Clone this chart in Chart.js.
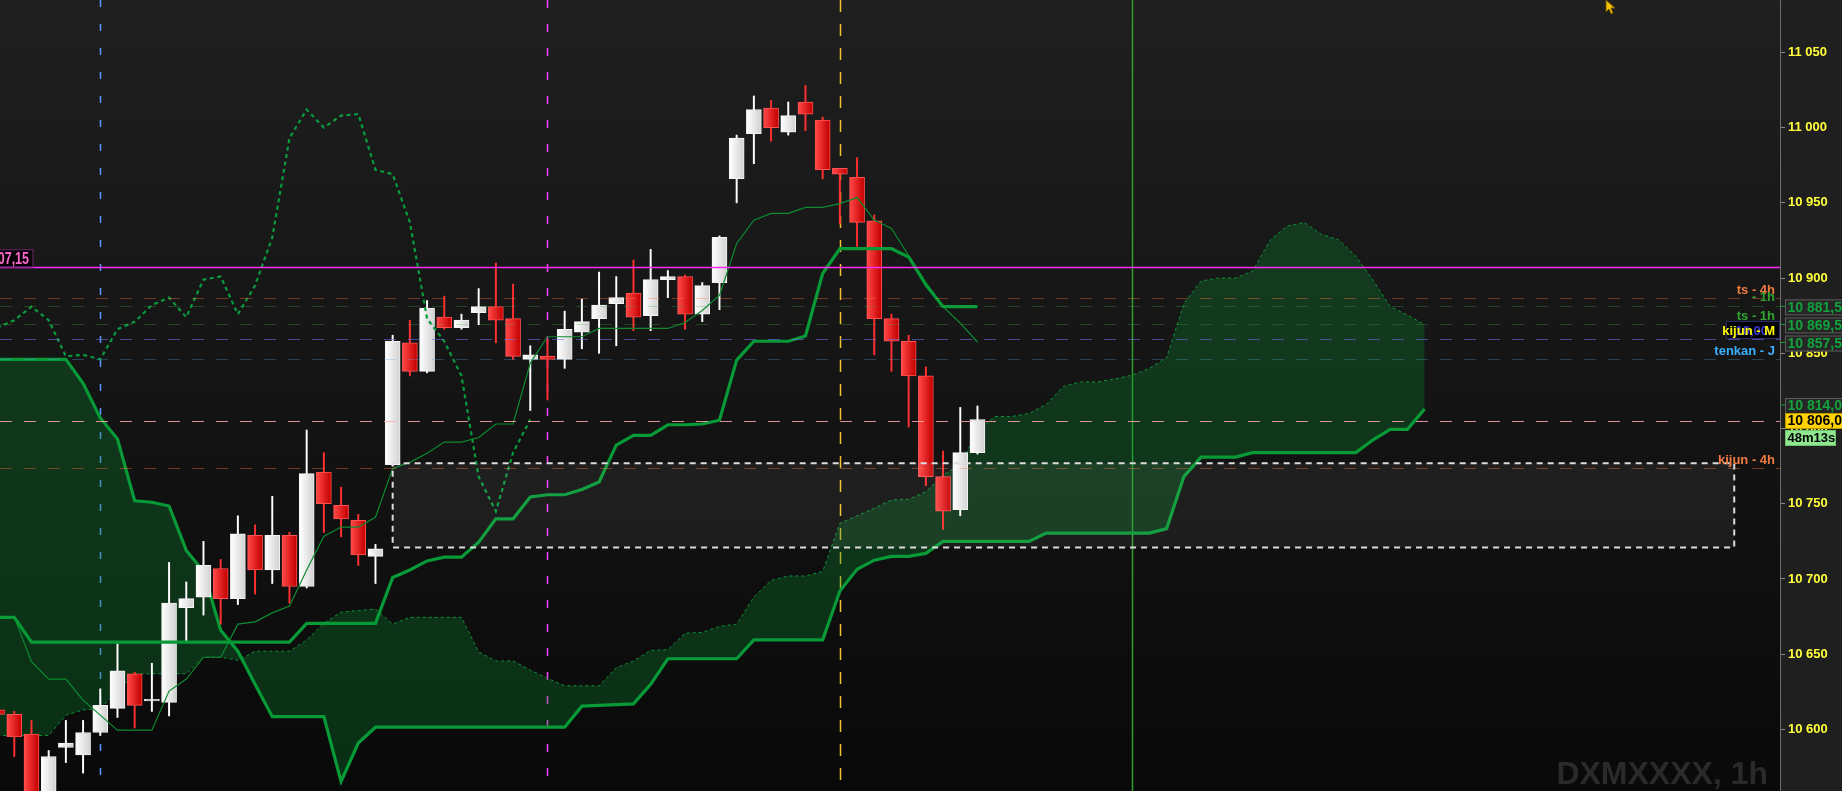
<!DOCTYPE html>
<html>
<head>
<meta charset="utf-8">
<script src="https://cdn.jsdelivr.net/npm/chart.js@4.4.1/dist/chart.umd.min.js"></script>
<style>
  html, body { margin: 0; padding: 0; background: #1f1f1f; overflow: hidden; }
  #chart { display: block; }
</style>
</head>
<body>
<canvas id="chart" width="1842" height="791"></canvas>
<script>
// bar index k: 0 = first (cut) bar on the left, 57 = current 1h bar
const opens = [
  10613, 10610, 10597, 10545, 10588, 10583, 10598, 10614, 10637, 10619,
  10618, 10681, 10688, 10707, 10687, 10729, 10706, 10729, 10695, 10771,
  10749, 10739, 10715, 10776, 10857, 10838, 10874, 10867, 10877, 10881,
  10873, 10846, 10848, 10846, 10864, 10873, 10883, 10890, 10875, 10899,
  10901, 10876, 10897, 10966, 10996, 11013, 10997, 11017, 11005, 10973,
  10967, 10938, 10873, 10858, 10835, 10768, 10746, 10784];
const highs = [
  10614, 10612, 10606, 10586, 10606, 10606, 10627, 10657, 10638, 10644,
  10711, 10698, 10725, 10713, 10742, 10736, 10755, 10731, 10799, 10784,
  10761, 10743, 10723, 10862, 10872, 10885, 10888, 10876, 10893, 10910,
  10896, 10855, 10859, 10878, 10886, 10904, 10901, 10912, 10919, 10905,
  10902, 10897, 10928, 10995, 11021, 11018, 11017, 11028, 11007, 10973,
  10980, 10942, 10876, 10862, 10841, 10785, 10814, 10815];
const lows = [
  10608, 10582, 10540, 10535, 10578, 10571, 10596, 10608, 10601, 10612,
  10609, 10659, 10676, 10670, 10683, 10690, 10697, 10684, 10694, 10731,
  10728, 10709, 10697, 10775, 10835, 10837, 10866, 10866, 10869, 10857,
  10846, 10812, 10819, 10840, 10853, 10850, 10855, 10865, 10865, 10887,
  10866, 10871, 10879, 10950, 10976, 10991, 10995, 10998, 10966, 10936,
  10921, 10849, 10838, 10801, 10762, 10733, 10742, 10783];
const closes = [
  10610, 10595, 10548, 10582, 10591, 10598, 10616, 10639, 10616, 10620,
  10684, 10687, 10709, 10687, 10730, 10706, 10729, 10695, 10770, 10750,
  10740, 10716, 10720, 10858, 10838, 10880, 10867, 10872, 10881, 10872,
  10848, 10849, 10846, 10866, 10871, 10882, 10887, 10874, 10899, 10901,
  10876, 10895, 10927, 10993, 11012, 11000, 11008, 11009, 10972, 10969,
  10937, 10873, 10858, 10835, 10768, 10745, 10784, 10806];

const tenkan = [
  10674.5, 10674.5, 10645, 10633.5, 10633.5, 10619.5, 10609.5, 10599.5, 10599.5, 10599.5,
  10625.5, 10633.5, 10648, 10648, 10670, 10671.5, 10677.5, 10682, 10706, 10728.5,
  10734.5, 10734.5, 10741, 10773.5, 10777.5, 10783.5, 10791, 10791, 10794, 10803,
  10803, 10843.5, 10861, 10861, 10861, 10866.5, 10866.5, 10866.5, 10866.5, 10866.5,
  10870.5, 10878.5, 10888.5, 10923, 10938.5, 10943, 10943, 10947, 10947, 10949.5,
  10953.5, 10938.5, 10933, 10915, 10897, 10881, 10870, 10857.5];
const kijun = [
  10674.5, 10674.5, 10658, 10658, 10658, 10658, 10658, 10658, 10658, 10658,
  10658, 10658, 10658, 10658, 10658, 10658, 10658, 10658, 10670.5, 10670.5,
  10670.5, 10670.5, 10670.5, 10701, 10706, 10712, 10714.5, 10714.5, 10724.5, 10740,
  10740, 10754.5, 10756, 10756, 10759.5, 10764.5, 10789, 10795.5, 10795.5, 10802.5,
  10802.5, 10803, 10805.5, 10845.5, 10858, 10858, 10858, 10861.5, 10903, 10919.5,
  10919.5, 10919.5, 10919.5, 10914, 10895.5, 10881, 10881, 10881];
// cloud runs 26 bars past the last candle (k 0..83)
const senkouA = [
  10596, 10596, 10596, 10596, 10609.5, 10613, 10614, 10625, 10637, 10637,
  10637, 10637, 10648, 10648, 10646, 10652, 10652, 10652, 10659.5, 10670.5,
  10678, 10679, 10680, 10670, 10674.5, 10674.5, 10674.5, 10674.5, 10651.5, 10645.5,
  10645.5, 10639.5, 10634, 10629, 10629, 10629, 10641, 10645.5, 10652.5, 10653,
  10664, 10664.5, 10668.5, 10670, 10688, 10699, 10702, 10702, 10705, 10737,
  10742, 10747, 10752.5, 10753, 10758, 10769, 10776, 10798, 10808, 10808,
  10810, 10816, 10828, 10831, 10831, 10833, 10835.5, 10840, 10847, 10883,
  10898, 10900, 10900, 10904.5, 10925, 10934.5, 10937, 10929, 10925.5, 10914.5,
  10898.5, 10881, 10875.5, 10869];
const senkouB = [
  10846, 10846, 10846, 10846, 10846, 10830, 10807, 10793, 10752, 10751,
  10748.5, 10719, 10705, 10666, 10652, 10630, 10608.5, 10608.5, 10608.5, 10608.5,
  10565.5, 10591, 10601.5, 10601.5, 10601.5, 10601.5, 10601.5, 10601.5, 10601.5, 10601.5,
  10601.5, 10601.5, 10601.5, 10601.5, 10615.5, 10616, 10616.5, 10617, 10630, 10647,
  10647, 10647, 10647, 10647, 10659.5, 10659.5, 10659.5, 10659.5, 10659.5, 10692,
  10706.5, 10712.5, 10715, 10715, 10717, 10725, 10725, 10725, 10725, 10725,
  10725, 10730.5, 10730.5, 10730.5, 10730.5, 10730.5, 10730.5, 10730.5, 10733.5, 10768,
  10781, 10781, 10781, 10784, 10784, 10784, 10784, 10784, 10784, 10784,
  10792.5, 10799.5, 10799.5, 10813];
const chikouShift = 26;

const yTicks = [10600, 10650, 10700, 10750, 10800, 10850, 10900, 10950, 11000, 11050];
const yRange = [10559.1, 11084.8];
const xRange = [0.17, 103.66];

const levelPrices = [10907.15, 10886.5, 10881.5, 10869.5, 10859.5, 10846, 10805, 10773.5];
const levelNames  = ['', 'ts - 4h', '- 1h', 'ts - 1h', 'kijun - M', 'tenkan - J', '', 'kijun - 4h'];
const levelColors = ['#ff2cff', 'rgba(255,120,60,0.38)', 'rgba(70,170,70,0.3)', 'rgba(70,170,70,0.3)',
                     'rgba(110,110,230,0.6)', 'rgba(90,170,230,0.3)', 'rgba(255,170,170,0.85)', 'rgba(255,120,60,0.38)'];
const levelText   = ['', '#f07a40', '#2ea42e', '#2ea42e', '#ffff00', '#3ab0ff', '', '#f07a40'];

const vLineBars   = [6, 32, 49, 66];
const vLineColors = ['#5c96ff', '#ff44ff', '#f2c030', '#2f9f2f'];
const vLineDashes = [[7, 17], [8, 16], [12, 12], []];

const zoneBars = [23, 101];
const zonePrices = [10721, 10777];

const priceTags = [10881.5, 10869.5, 10857.5, 10814];
const lastPrice = 10806;
const timerText = '48m13s';
const watermark = 'DXMXXXX, 1h';

const FONT = '"Liberation Sans", Arial, sans-serif';
const thousands = s => s.replace(/\B(?=(\d{3})+(?!\d))/g, ' ');
const fmtTick = v => thousands(String(v));
const fmtPrice = v => { const p = v.toFixed(2).split('.'); return thousands(p[0]) + ',' + p[1]; };

const isUp = i => closes[i] >= opens[i];
const pts = arr => arr.map((v, k) => ({x: k, y: v}));

function bodyFill(c) {
  const chart = c.chart;
  const i = c.dataIndex;
  const flat = (i !== undefined && !isUp(i)) ? '#e82020' : '#f0f0f0';
  if (i === undefined || !chart.scales.x) return flat;
  const px = chart.scales.x.getPixelForValue(i);
  if (!Number.isFinite(px)) return flat;
  const g = chart.ctx.createLinearGradient(px - 7, 0, px + 7, 0);
  if (isUp(i)) { g.addColorStop(0, '#ffffff'); g.addColorStop(1, '#d2d2d2'); }
  else { g.addColorStop(0, '#ff4646'); g.addColorStop(1, '#c40000'); }
  return g;
}

const bgPlugin = {
  id: 'bg',
  beforeDraw(c) {
    const {ctx, chartArea: a, width, height} = c;
    ctx.save();
    ctx.fillStyle = '#1f1f1f';
    ctx.fillRect(0, 0, width, height);
    const g = ctx.createLinearGradient(0, a.top, 0, a.bottom);
    g.addColorStop(0, '#1f1f1f');
    g.addColorStop(1, '#090909');
    ctx.fillStyle = g;
    ctx.fillRect(a.left, a.top, a.right - a.left, a.bottom - a.top);
    ctx.restore();
  }
};

const marksPlugin = {
  id: 'marks',
  beforeDatasetsDraw(c) {
    const {ctx, chartArea: a, scales: {x}} = c;
    ctx.save();
    vLineBars.forEach((k, i) => {
      const px = Math.round(x.getPixelForValue(k)) + 0.5;
      ctx.strokeStyle = vLineColors[i];
      ctx.lineWidth = 1.5;
      ctx.setLineDash(vLineDashes[i]);
      ctx.beginPath();
      ctx.moveTo(px, a.top);
      ctx.lineTo(px, a.bottom);
      ctx.stroke();
    });
    ctx.restore();
  },
  afterDatasetsDraw(c) {
    const {ctx, chartArea: a, scales: {x, y}} = c;
    ctx.save();
    ctx.beginPath();
    ctx.rect(a.left, a.top, a.right - a.left, a.bottom - a.top);
    ctx.clip();
    // horizontal levels
    levelPrices.forEach((p, i) => {
      const py = Math.round(y.getPixelForValue(p)) + 0.5;
      ctx.strokeStyle = levelColors[i];
      ctx.lineWidth = i === 0 ? 1.5 : 1;
      ctx.setLineDash(i === 0 ? [] : [12, 12]);
      ctx.beginPath();
      ctx.moveTo(a.left, py);
      ctx.lineTo(a.right, py);
      ctx.stroke();
    });
    // dashed zone
    const x0 = x.getPixelForValue(zoneBars[0]), x1 = x.getPixelForValue(zoneBars[1]);
    const y0 = y.getPixelForValue(zonePrices[1]), y1 = y.getPixelForValue(zonePrices[0]);
    ctx.fillStyle = 'rgba(255,255,255,0.055)';
    ctx.fillRect(x0, y0, x1 - x0, y1 - y0);
    ctx.strokeStyle = '#dcdcdc';
    ctx.lineWidth = 2;
    ctx.setLineDash([6, 5]);
    ctx.strokeRect(x0, y0, x1 - x0, y1 - y0);
    ctx.restore();
  }
};

function tag(ctx, left, py, text, bg, border, color, w, size) {
  ctx.fillStyle = bg;
  ctx.fillRect(left, py - 6.5, w, 16);
  ctx.strokeStyle = border;
  ctx.lineWidth = 1;
  ctx.setLineDash([]);
  ctx.strokeRect(left + 0.5, py - 6, w, 15);
  ctx.fillStyle = color;
  ctx.font = 'bold ' + size + 'px ' + FONT;
  ctx.textAlign = 'left';
  ctx.fillText(text, left + 2.5, py + 2);
}

const labelsPlugin = {
  id: 'labels',
  afterDraw(c) {
    const {ctx, chartArea: a, scales: {y}} = c;
    ctx.save();
    ctx.textBaseline = 'middle';

    // level names at right edge of plot
    levelPrices.forEach((p, i) => {
      if (!levelNames[i]) return;
      const ty = y.getPixelForValue(p) - 9;
      ctx.font = 'bold 13px ' + FONT;
      ctx.textAlign = 'right';
      if (levelNames[i] === 'kijun - M') {
        ctx.fillStyle = '#000';
        ctx.fillRect(a.right - 54, ty - 9, 54, 18);
        ctx.strokeStyle = '#2c2c70';
        ctx.lineWidth = 1;
        ctx.strokeRect(a.right - 53.5, ty - 8.5, 53, 17);
        ctx.fillStyle = '#3b3bd8';
        ctx.fillText('10,00', a.right - 12, ty + 1);
      }
      ctx.fillStyle = levelText[i];
      ctx.fillText(levelNames[i], a.right - 5, ty + 1);
    });

    // left cut label on the magenta level
    const my = y.getPixelForValue(levelPrices[0]);
    ctx.fillStyle = '#050005';
    ctx.fillRect(0, my - 18, 33, 18);
    ctx.strokeStyle = '#6b2c6b';
    ctx.lineWidth = 1;
    ctx.strokeRect(-1, my - 17.5, 34, 17);
    ctx.save();
    ctx.translate(29, my - 8.5);
    ctx.scale(0.78, 1);
    ctx.font = 'bold 16px ' + FONT;
    ctx.textAlign = 'right';
    ctx.fillStyle = '#ff6ad0';
    ctx.fillText(fmtPrice(levelPrices[0]), 0, 1);
    ctx.restore();

    // price tags on the axis
    const lastY = y.getPixelForValue(lastPrice);
    priceTags.forEach(p => {
      let py = y.getPixelForValue(p);
      if (p > lastPrice) py = Math.min(py, lastY - 15);
      ctx.strokeStyle = '#12a23c';
      ctx.beginPath(); ctx.moveTo(a.right, py + 0.5); ctx.lineTo(a.right + 5, py + 0.5); ctx.stroke();
      tag(ctx, a.right + 5, py, fmtPrice(p), '#262626', '#5c5c5c', '#12a23c', 70, 14);
    });
    tag(ctx, a.right + 5, lastY, fmtPrice(lastPrice), '#ffd200', '#b89800', '#000', 70, 14);
    tag(ctx, a.right + 5, lastY + 17, timerText, '#8fe68f', '#6cc46c', '#000', 50, 13);

    // watermark
    ctx.font = 'bold 32px ' + FONT;
    ctx.textAlign = 'right';
    ctx.textBaseline = 'alphabetic';
    ctx.fillStyle = '#2a2a2a';
    ctx.fillText(watermark, a.right - 12, a.bottom - 7);

    // mouse pointer
    ctx.fillStyle = '#f5c400';
    ctx.strokeStyle = '#6a5200';
    ctx.beginPath();
    ctx.moveTo(1606, 0); ctx.lineTo(1606, 12); ctx.lineTo(1609, 9); ctx.lineTo(1611, 14);
    ctx.lineTo(1613, 13); ctx.lineTo(1611, 8); ctx.lineTo(1615, 8); ctx.closePath();
    ctx.fill(); ctx.stroke();
    ctx.restore();
  }
};

const cloud = 'rgba(10,140,50,0.30)';

new Chart(document.getElementById('chart'), {
  type: 'bar',
  data: {
    datasets: [
      {
        type: 'line', label: 'senkou A', data: pts(senkouA),
        borderColor: '#0e9438', borderWidth: 1, borderDash: [3, 3],
        pointRadius: 0, tension: 0, fill: false, order: 8
      },
      {
        type: 'line', label: 'senkou B', data: pts(senkouB),
        borderColor: '#079a37', borderWidth: 3.2,
        pointRadius: 0, tension: 0, fill: {target: 0, above: cloud, below: cloud}, order: 9
      },
      {
        type: 'bar', label: 'wick',
        data: lows.map((l, k) => ({x: k, y: [l, highs[k]]})),
        backgroundColor: lows.map((l, k) => isUp(k) ? '#ffffff' : '#ff3030'),
        barThickness: 1.3, grouped: false, order: 6
      },
      {
        type: 'bar', label: 'body',
        data: opens.map((o, k) => ({x: k, y: [o, closes[k]]})),
        backgroundColor: bodyFill,
        borderColor: opens.map((o, k) => isUp(k) ? '#f4f4f4' : '#ff5252'),
        borderWidth: 1, borderSkipped: false,
        barThickness: 15, grouped: false, order: 5
      },
      {
        type: 'line', label: 'tenkan', data: pts(tenkan),
        borderColor: '#0d8a30', borderWidth: 1.2, pointRadius: 0, tension: 0, order: 3
      },
      {
        type: 'line', label: 'kijun', data: pts(kijun),
        borderColor: '#079a37', borderWidth: 3.2, pointRadius: 0, tension: 0, order: 2
      },
      {
        type: 'line', label: 'chikou', data: pts(closes.slice(chikouShift)),
        borderColor: '#0a9a3e', borderWidth: 2.2, borderDash: [4, 3.5],
        pointRadius: 0, tension: 0, order: 1
      }
    ]
  },
  options: {
    responsive: false,
    animation: false,
    devicePixelRatio: 1,
    layout: { padding: 0 },
    plugins: { legend: { display: false }, tooltip: { enabled: false } },
    scales: {
      x: { type: 'linear', display: false, offset: false, min: xRange[0], max: xRange[1] },
      y: {
        type: 'linear', position: 'right', min: yRange[0], max: yRange[1],
        afterFit(s) { s.width = 62; s.paddingTop = 0; s.paddingBottom = 0; },
        afterBuildTicks(s) { s.ticks = yTicks.map(v => ({value: v})); },
        grid: { drawOnChartArea: false, drawTicks: true, tickLength: 5, color: '#8a8a8a' },
        border: { display: true, color: '#6e6e6e' },
        ticks: {
          color: '#ffff3a', padding: 3,
          font: { family: FONT, size: 13, weight: 'bold' },
          callback: v => fmtTick(v)
        }
      }
    }
  },
  plugins: [bgPlugin, marksPlugin, labelsPlugin]
});
</script>
</body>
</html>
